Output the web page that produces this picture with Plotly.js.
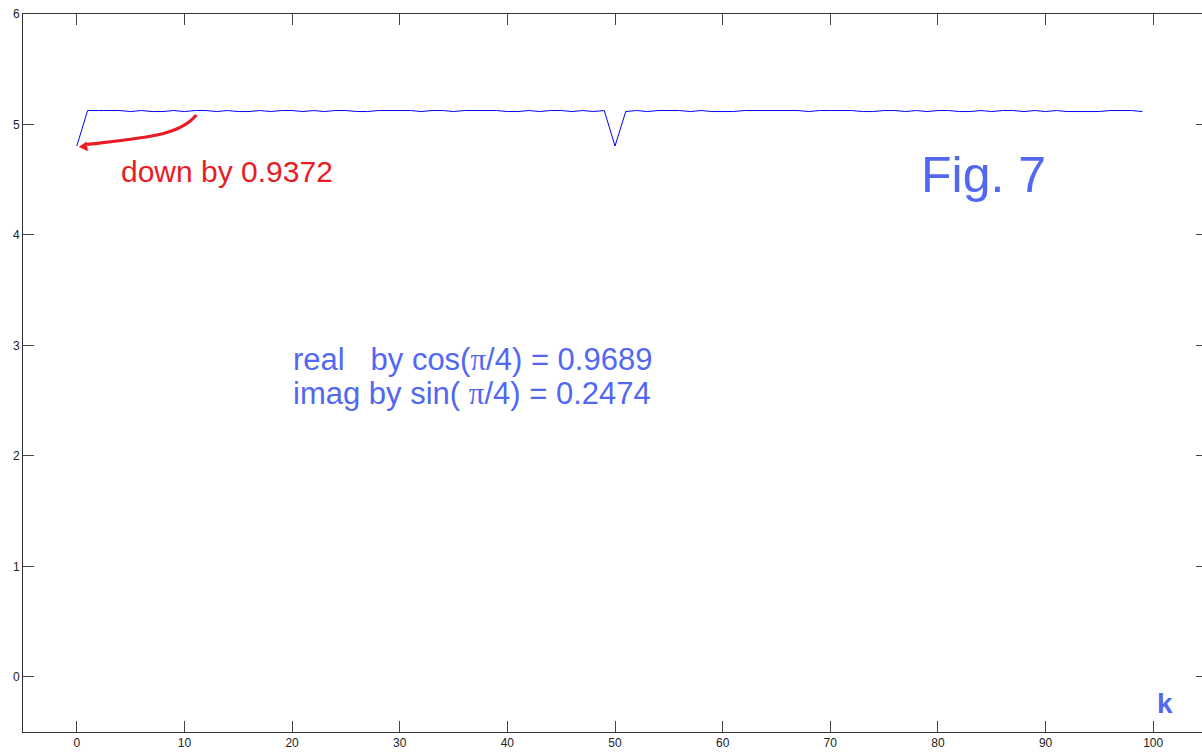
<!DOCTYPE html>
<html>
<head>
<meta charset="utf-8">
<script src="https://cdn.plot.ly/plotly-3.0.1.min.js"></script>
<style>
html,body{margin:0;padding:0;overflow:hidden;background:#fff;}
#chart{width:1210px;height:753px;}
</style>
</head>
<body>
<div id="chart"></div>
<script>
// k index 0..99
const H = 5.126, L = 5.117, D = 4.805;
const kValues = Array.from({length: 100}, (_, i) => i);
const magnitude = [
  D, H, H, H, H, L, H, L, L, H,
  L, H, H, L, H, L, L, H, L, H,
  H, L, H, L, H, H, L, L, H, H,
  H, H, L, H, H, L, H, H, H, H,
  L, L, H, L, H, H, L, H, L, H,
  D, L, H, L, H, H, H, L, H, L,
  L, L, H, H, H, H, H, H, L, H,
  H, H, H, L, L, H, H, L, H, L,
  H, H, L, L, H, L, H, H, L, H,
  L, H, L, L, L, L, H, H, H, L
];

const xTickVals = [0,10,20,30,40,50,60,70,80,90,100];
const yTickVals = [0,1,2,3,4,5,6];

const blueText = 'rgb(82,104,240)';
const redText = 'rgb(232,28,36)';
const sans = 'Liberation Sans, Arial, sans-serif';

const trace = {
  x: kValues,
  y: magnitude,
  type: 'scatter',
  mode: 'lines',
  line: {color: '#0000ff', width: 1},
  hoverinfo: 'x+y'
};

const axisCommon = {
  showgrid: false,
  zeroline: false,
  showline: true,
  linecolor: '#333',
  linewidth: 1,
  mirror: 'ticks',
  ticks: 'inside',
  ticklen: 11,
  tickwidth: 1,
  tickcolor: '#444',
  tickfont: {family: sans, size: 12, color: '#222'}
};

const layout = {
  width: 1210,
  height: 753,
  margin: {l: 23, r: 3, t: 14, b: 21},
  paper_bgcolor: '#fff',
  plot_bgcolor: '#fff',
  showlegend: false,
  xaxis: Object.assign({}, axisCommon, {
    range: [-5, 105],
    tickvals: xTickVals
  }),
  yaxis: Object.assign({}, axisCommon, {
    range: [-0.5, 6],
    tickvals: yTickVals
  }),
  shapes: [
    {
      type: 'path', xref: 'x', yref: 'y',
      path: 'M 11.1,5.085 C 9.6,4.905 6.8,4.885 0.96,4.819',
      line: {color: redText, width: 3.2}
    },
    {
      type: 'path', xref: 'x', yref: 'y',
      path: 'M 0.25,4.798 L 0.90,4.838 L 0.97,4.764 Z',
      fillcolor: redText,
      line: {color: redText, width: 1}
    }
  ],
  annotations: [
    {
      text: 'down by 0.9372', xref: 'x', yref: 'y', x: 3.9, y: 4.57,
      xanchor: 'left', yanchor: 'middle', showarrow: false,
      font: {family: sans, size: 30, color: redText}
    },
    {
      text: 'Fig. 7', xref: 'x', yref: 'y', x: 78.2, y: 4.54,
      xanchor: 'left', yanchor: 'middle', showarrow: false,
      font: {family: sans, size: 50, color: blueText}
    },
    {
      text: 'real &nbsp; by cos(<span style="font-family:Liberation Serif">π</span>/4) = 0.9689',
      xref: 'x', yref: 'y', x: 19.9, y: 2.87,
      xanchor: 'left', yanchor: 'middle', align: 'left', showarrow: false,
      font: {family: sans, size: 31, color: blueText}
    },
    {
      text: 'imag by sin( <span style="font-family:Liberation Serif">π</span>/4) = 0.2474',
      xref: 'x', yref: 'y', x: 19.9, y: 2.565,
      xanchor: 'left', yanchor: 'middle', align: 'left', showarrow: false,
      font: {family: sans, size: 31, color: blueText}
    },
    {
      text: '<b>k</b>', xref: 'x', yref: 'y', x: 100.2, y: -0.24,
      xanchor: 'left', yanchor: 'middle', showarrow: false,
      font: {family: sans, size: 28, color: blueText}
    }
  ]
};

Plotly.newPlot('chart', [trace], layout, {displayModeBar: false, staticPlot: true});
</script>
</body>
</html>
